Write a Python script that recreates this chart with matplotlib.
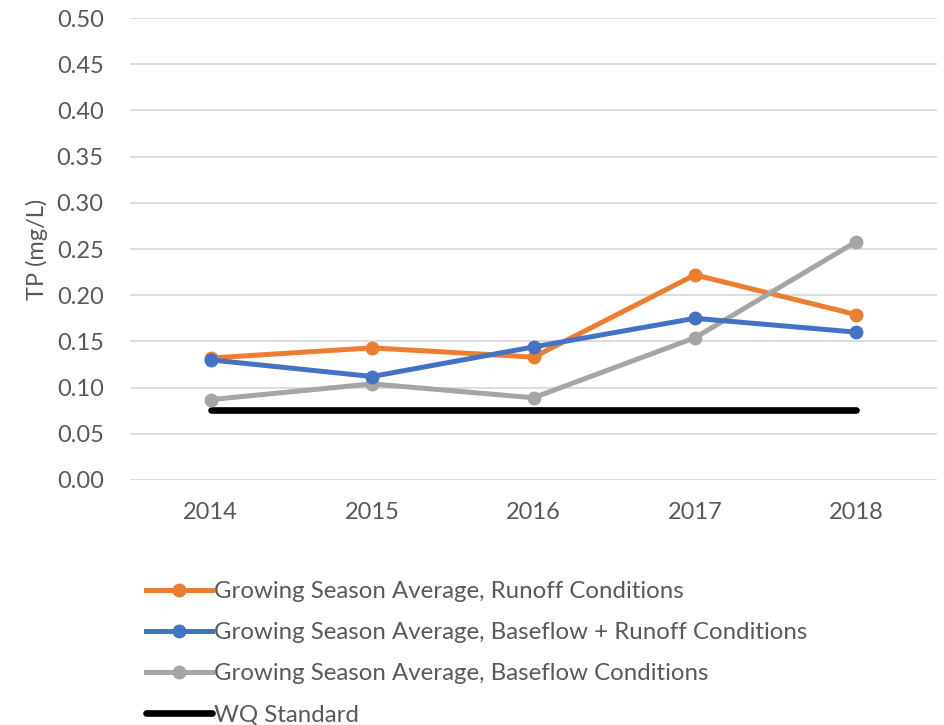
import matplotlib
matplotlib.use("Agg")
import matplotlib.pyplot as plt

plt.rcParams['font.family'] = ['Lato', 'DejaVu Sans']

years = ['2014', '2015', '2016', '2017', '2018']
runoff = [0.132, 0.143, 0.133, 0.222, 0.179]
baseflow_runoff = [0.130, 0.112, 0.144, 0.175, 0.160]
baseflow = [0.087, 0.104, 0.089, 0.154, 0.258]
wq_standard = [0.076, 0.076, 0.076, 0.076, 0.076]

fig = plt.figure(figsize=(9.45, 7.25), dpi=100)
ax = fig.add_axes([0.1376, 0.338, 0.854, 0.637])

x = range(len(years))
ax.plot(x, runoff, color='#ED7D31', lw=3.6, marker='o', ms=9,
        label='Growing Season Average, Runoff Conditions', zorder=3)
ax.plot(x, baseflow_runoff, color='#4472C4', lw=3.6, marker='o', ms=9,
        label='Growing Season Average, Baseflow + Runoff Conditions', zorder=4)
ax.plot(x, baseflow, color='#A5A5A5', lw=3.6, marker='o', ms=9,
        label='Growing Season Average, Baseflow Conditions', zorder=3)
ax.plot(x, wq_standard, color='black', lw=4.8, solid_capstyle='round',
        label='WQ Standard', zorder=2)

ax.set_xlim(-0.5, len(years) - 0.5)
ax.set_ylim(0, 0.5)
ax.set_yticks([i * 0.05 for i in range(11)])
ax.set_yticklabels(['%.2f' % (i * 0.05) for i in range(11)])
ax.set_xticks(list(x))
ax.set_xticklabels(years)

ax.grid(axis='y', color='#D9D9D9', lw=1.3)
ax.set_axisbelow(True)
for s in ax.spines.values():
    s.set_visible(False)
ax.tick_params(length=0, labelsize=17, colors='#595959')
ax.tick_params(axis='x', pad=16)
ax.tick_params(axis='y', pad=19)
ax.set_ylabel('TP (mg/L)', fontsize=17, color='#595959', labelpad=6)

fig.legend(loc='upper left', bbox_to_anchor=(0.144, 0.212), frameon=False,
           fontsize=17.3, handlelength=2.75, handletextpad=0.1,
           labelspacing=0.84, borderaxespad=0, labelcolor='#595959')

fig.savefig('out.png', dpi=100, facecolor='white')
